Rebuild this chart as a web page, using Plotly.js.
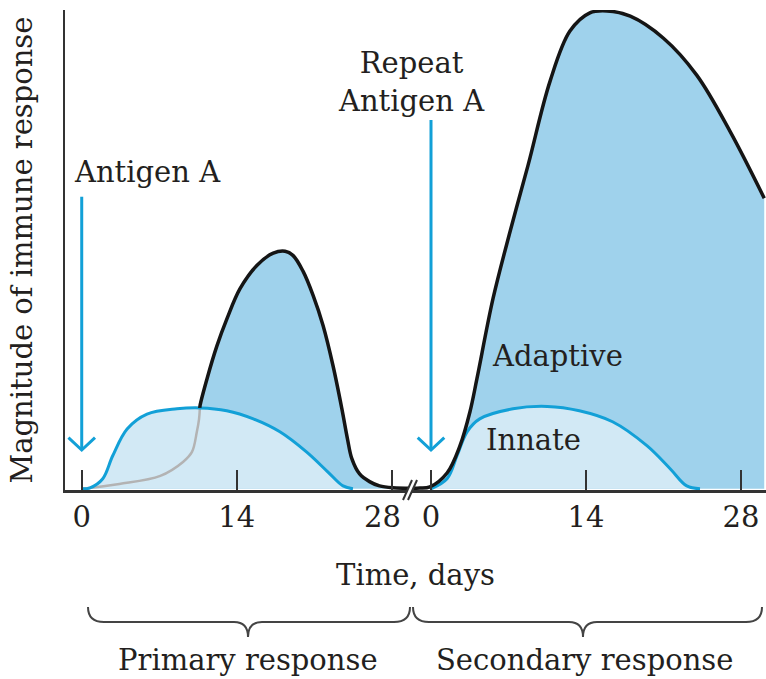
<!DOCTYPE html>
<html><head><meta charset="utf-8">
<script src="https://cdn.plot.ly/plotly-3.0.1.min.js"></script>
<style>html,body{margin:0;padding:0;background:#fff}</style>
</head><body>
<div id="chart" style="width:766px;height:679px"></div>
<script>
// ---------- DATA (days, magnitude 0-100) ----------
const breakOffset = 31.55; // secondary day 0 placed after the axis break
const primaryInnateDays = [0, 0.75, 1.9, 2.8, 4.1, 5.9, 8.6, 10.7, 13.1, 15.5, 17.9, 20.3, 22.2, 23.6, 24.5];
const primaryInnate     = [0, 0.2, 2.1, 6.9, 12.5, 15.6, 16.7, 16.9, 16.3, 14.6, 11.9, 7.7, 3.6, 0.6, 0];
const primaryAdaptiveDays = [0, 3.4, 7.1, 9.15, 9.96, 10.4, 10.6, 10.69, 11.32, 12.22, 13.13, 14.3, 15.84, 17.3, 18.37, 19.1, 20.0, 20.9, 21.8, 22.7, 23.5, 24.0, 24.4, 25.1, 26.0, 26.9, 28.1, 29.9];
const primaryAdaptive     = [0, 1.0, 2.7, 5.6, 7.7, 11.9, 14.6, 17.4, 23.0, 29.9, 35.6, 41.8, 46.7, 49.2, 49.6, 48.7, 45.4, 40.4, 34.1, 25.7, 16.7, 10.5, 6.3, 3.1, 1.5, 0.6, 0.2, 0.1];
const secondaryInnateDays = [0, 1.45, 2.35, 3.26, 4.4, 7.4, 10.5, 13.4, 16.4, 19.5, 21.6, 23.1, 24.3];
const secondaryInnate     = [0, 2.1, 6.9, 11.9, 14.6, 16.7, 17.2, 16.3, 14.0, 9.0, 4.2, 0.6, 0];
const secondaryAdaptiveDays = [-1.6, -1.0, -0.1, 1.45, 2.62, 3.52, 4.15, 5.6, 7.15, 8.77, 10.75, 12.55, 14.35, 15.9, 18.0, 21.0, 24.0, 27.0, 30.1];
const secondaryAdaptive     = [0.1, 0.15, 0.4, 3.3, 9.0, 16.1, 23.0, 39.7, 53.8, 67.6, 85.1, 95.6, 99.4, 99.8, 98.7, 94.1, 86.4, 74.7, 60.7];
const tickDays   = [0, 14, 28];
const tickLabels = ['0', '14', '28'];
const antigenDays = [0, 0]; // primary, secondary

// ---------- STYLE ----------
const FONT = 'DejaVu Serif, serif';
const TXT = '#231f20';
const DARK_FILL = '#9fd2ec', LIGHT_FILL = '#d2e9f5', BLUE = '#12a0d7', BLACK = '#151515', GRAY = '#b3b3b3', AXIS = '#333333';
const W = 766, H = 679, M = {l: 65, r: 0, t: 10, b: 189};
const plotW = W - M.l - M.r, plotH = H - M.t - M.b;
const xRange = [-1.51, 61.81], yRange = [-0.25, 100];

const sec = d => d.map(v => v + breakOffset);

function interp(xs, ys, x) {
  if (x < xs[0] || x > xs[xs.length - 1]) return 0;
  for (let i = 1; i < xs.length; i++) {
    if (x <= xs[i]) { const t = (x - xs[i-1]) / (xs[i] - xs[i-1]); return ys[i-1] + t * (ys[i] - ys[i-1]); }
  }
  return 0;
}
// split adaptive curve into parts hidden below innate (grey) and visible (black)
function split(days, vals, iD, iV) {
  const hidden = [], shown = [];
  let cur = null, curState = null;
  for (let i = 0; i < days.length; i++) {
    const diff = vals[i] - interp(iD, iV, days[i]);
    const st = diff <= 0 ? 'h' : 's';
    if (cur === null) { cur = {x: [days[i]], y: [vals[i]]}; curState = st; continue; }
    if (st !== curState) {
      const d0 = vals[i-1] - interp(iD, iV, days[i-1]);
      const t = d0 / (d0 - diff);
      const xc = days[i-1] + t * (days[i] - days[i-1]);
      const yc = vals[i-1] + t * (vals[i] - vals[i-1]);
      cur.x.push(xc); cur.y.push(yc);
      (curState === 'h' ? hidden : shown).push(cur);
      cur = {x: [xc], y: [yc]}; curState = st;
    }
    cur.x.push(days[i]); cur.y.push(vals[i]);
  }
  if (cur) (curState === 'h' ? hidden : shown).push(cur);
  return {hidden: hidden.filter(s => s.x.length > 1), shown: shown.filter(s => s.x.length > 1)};
}

const pSplit = split(primaryAdaptiveDays, primaryAdaptive, primaryInnateDays, primaryInnate);
const sSplit = split(secondaryAdaptiveDays, secondaryAdaptive, secondaryInnateDays, secondaryInnate);

const base = {type: 'scatter', mode: 'lines', hoverinfo: 'skip', showlegend: false};
const sp = {shape: 'spline', smoothing: 1};
const traces = [];
traces.push({...base, x: primaryAdaptiveDays, y: primaryAdaptive, fill: 'tozeroy', fillcolor: DARK_FILL, line: {...sp, width: 0}});
traces.push({...base, x: sec(secondaryAdaptiveDays), y: secondaryAdaptive, fill: 'tozeroy', fillcolor: DARK_FILL, line: {...sp, width: 0}});
traces.push({...base, x: primaryInnateDays, y: primaryInnate, fill: 'tozeroy', fillcolor: LIGHT_FILL, line: {...sp, width: 0}});
traces.push({...base, x: sec(secondaryInnateDays), y: secondaryInnate, fill: 'tozeroy', fillcolor: LIGHT_FILL, line: {...sp, width: 0}});
pSplit.hidden.forEach(s => traces.push({...base, x: s.x, y: s.y, line: {...sp, color: GRAY, width: 2.5}}));
sSplit.hidden.forEach(s => traces.push({...base, x: sec(s.x), y: s.y, line: {...sp, color: GRAY, width: 2.5}}));
traces.push({...base, x: primaryInnateDays, y: primaryInnate, line: {...sp, color: BLUE, width: 3}});
traces.push({...base, x: sec(secondaryInnateDays), y: secondaryInnate, line: {...sp, color: BLUE, width: 3}});
pSplit.shown.forEach(s => traces.push({...base, x: s.x, y: s.y, line: {...sp, color: BLACK, width: 3.5}}));
sSplit.shown.forEach(s => traces.push({...base, x: sec(s.x), y: s.y, line: {...sp, color: BLACK, width: 3.5}}));

// ---------- decorations ----------
const pxX = p => (p - M.l) / plotW;           // pixel x -> paper
const pxY = p => (M.t + plotH - p) / plotH;    // pixel y -> paper
const P = (x, y) => pxX(x) + ',' + pxY(y);
const shapes = [];
// antigen arrows (data coords)
const arrowTops = [61.0, 77.0], arrowTip = 8.1;
antigenDays.forEach((d, i) => {
  const X = i === 0 ? d : d + breakOffset;
  shapes.push({type: 'line', xref: 'x', yref: 'y', x0: X, x1: X, y0: arrowTops[i], y1: arrowTip + 0.3, line: {color: BLUE, width: 3}});
  shapes.push({type: 'path', xref: 'x', yref: 'y', path: `M ${X-1.2},${arrowTip+2.6} L ${X},${arrowTip} L ${X+1.2},${arrowTip+2.6}`, line: {color: BLUE, width: 3}});
});
// axis break
shapes.push({type: 'path', xref: 'paper', yref: 'paper', layer: 'above', path: `M ${P(403,500)} L ${P(412,480)} L ${P(417,480)} L ${P(408,500)} Z`, fillcolor: '#ffffff', line: {width: 0}});
shapes.push({type: 'line', xref: 'paper', yref: 'paper', layer: 'above', x0: pxX(403), y0: pxY(500), x1: pxX(412), y1: pxY(480), line: {color: AXIS, width: 2}});
shapes.push({type: 'line', xref: 'paper', yref: 'paper', layer: 'above', x0: pxX(408), y0: pxY(500), x1: pxX(417), y1: pxY(480), line: {color: AXIS, width: 2}});
// braces
function brace(x0, x1, cx) {
  const yt = 607, ym = 622, yb = 637;
  return `M ${P(x0,yt)} Q ${P(x0,ym)} ${P(x0+16,ym)} L ${P(cx-14,ym)} Q ${P(cx,ym)} ${P(cx,yb)} Q ${P(cx,ym)} ${P(cx+14,ym)} L ${P(x1-16,ym)} Q ${P(x1,ym)} ${P(x1,yt)}`;
}
shapes.push({type: 'path', xref: 'paper', yref: 'paper', path: brace(88, 410, 248), line: {color: '#444', width: 2}});
shapes.push({type: 'path', xref: 'paper', yref: 'paper', path: brace(413, 762, 583), line: {color: '#444', width: 2}});

const f = {family: FONT, size: 29, color: TXT};
const ann = (text, x, y, xref, yref) => ({text, x, y, xref, yref, showarrow: false, font: f, xanchor: 'center', yanchor: 'middle'});
const annotations = [
  ann('Antigen A', 5.95, 66.2, 'x', 'y'),
  ann('Repeat<br>Antigen A', 29.75, 85.0, 'x', 'y'),
  ann('Adaptive', 42.98, 27.7, 'x', 'y'),
  ann('Innate', 40.8, 10.2, 'x', 'y'),
  ann('Primary response', 15.04, pxY(660), 'x', 'paper'),
  ann('Secondary response', 45.39, pxY(660), 'x', 'paper')
];

const layout = {
  width: W, height: H, margin: M,
  paper_bgcolor: '#fff', plot_bgcolor: 'rgba(0,0,0,0)',
  xaxis: {
    range: xRange, showgrid: false, zeroline: false, showline: true, linecolor: AXIS, linewidth: 2.5,
    ticks: 'inside', ticklen: 20, tickwidth: 2, tickcolor: AXIS,
    tickvals: tickDays.concat(tickDays.map(d => d + breakOffset)),
    ticktext: tickLabels.map((t, i) => i === 2 ? t + '\u00a0\u00a0' : t).concat(tickLabels),
    tickfont: f,
    title: {text: 'Time, days', font: f, standoff: 32}
  },
  yaxis: {
    range: yRange, showgrid: false, zeroline: false, showline: true, linecolor: AXIS, linewidth: 2.5,
    ticks: '', showticklabels: false,
    title: {text: 'Magnitude of immune response', font: f, standoff: 22}
  },
  shapes, annotations
};
Plotly.newPlot('chart', traces, layout, {staticPlot: true, displayModeBar: false});
</script>
</body></html>
